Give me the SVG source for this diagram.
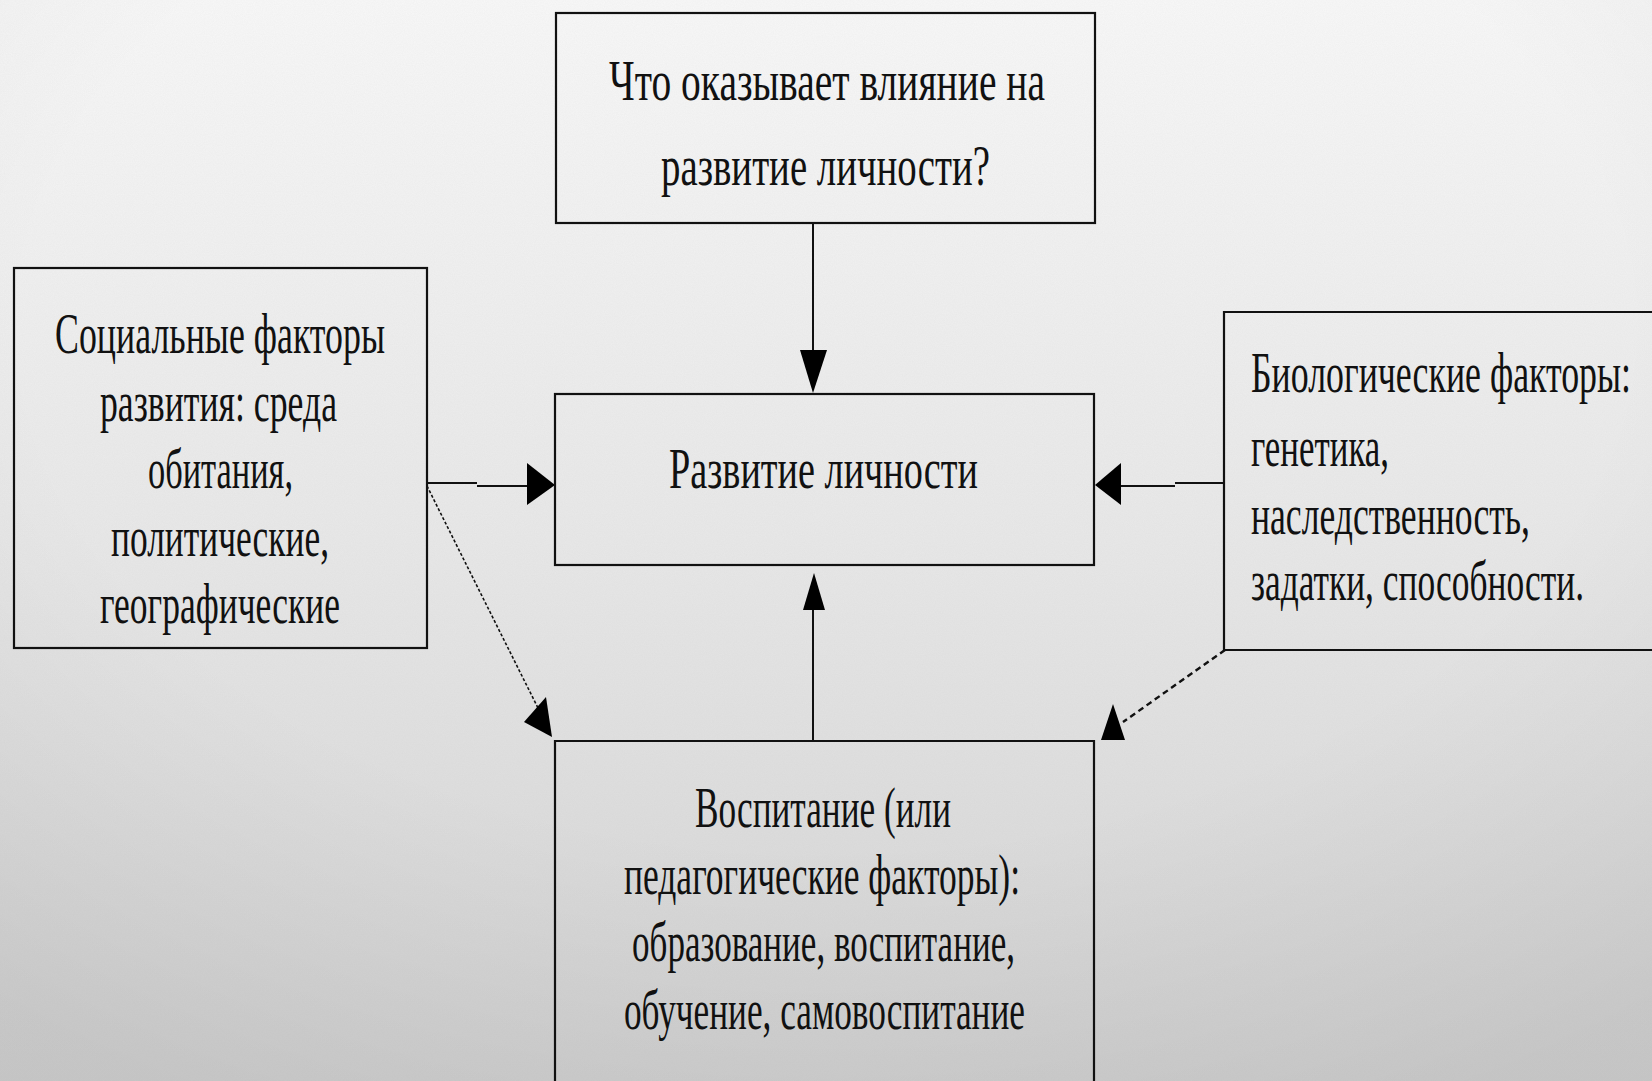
<svg xmlns="http://www.w3.org/2000/svg" width="1652" height="1081" viewBox="0 0 1652 1081">
<defs>
<linearGradient id="bg" x1="0" y1="0" x2="0" y2="1">
<stop offset="0" stop-color="#f8f8f8"/>
<stop offset="0.5" stop-color="#e8e8e8"/>
<stop offset="1" stop-color="#d2d2d2"/>
</linearGradient>
<radialGradient id="vig" cx="0.5" cy="0.3" r="0.8">
<stop offset="0.6" stop-color="#000" stop-opacity="0"/>
<stop offset="1" stop-color="#000" stop-opacity="0.06"/>
</radialGradient>
<filter id="noise" x="0" y="0" width="100%" height="100%">
<feTurbulence type="fractalNoise" baseFrequency="0.9" numOctaves="2" seed="3" result="n"/>
<feColorMatrix type="matrix" values="0 0 0 0 0.5  0 0 0 0 0.5  0 0 0 0 0.5  0 0 0 0.12 0"/>
</filter>
</defs>
<style>
.box{fill:none;stroke:#111;stroke-width:2.2}
.t{font-family:"Liberation Serif","DejaVu Serif",serif;font-size:56px;fill:#111}
.ln{stroke:#111;stroke-width:2;fill:none}
.dot{stroke:#111;stroke-width:1.6;fill:none;stroke-dasharray:3 2}
.dash{stroke:#111;stroke-width:2.4;fill:none;stroke-dasharray:6 4}
.ah{fill:#000}
</style>
<rect width="1652" height="1081" fill="url(#bg)"/>
<rect width="1652" height="1081" filter="url(#noise)"/>
<rect width="1652" height="1081" fill="url(#vig)"/>

<g id="connectors">
<line class="ln" x1="813" y1="223" x2="813" y2="352"/>
<polygon class="ah" points="800,350 827,350 813,393"/>
<path class="ln" d="M427,483 H477 M477,486 H528"/>
<polygon class="ah" points="527,463 527,505 555,485"/>
<path class="ln" d="M1224,483 H1175 M1175,486 H1120"/>
<polygon class="ah" points="1121,463 1121,505 1095,485"/>
<line class="ln" x1="813" y1="741" x2="813" y2="608"/>
<polygon class="ah" points="803,610 825,610 814,573"/>
<line class="dot" x1="427" y1="486" x2="540" y2="712"/>
<polygon class="ah" points="552,737 546,697 524,722"/>
<line class="dash" x1="1225" y1="650" x2="1123" y2="722"/>
<polygon class="ah" points="1113,704 1101,740 1125,740"/>
</g>

<g id="node-question">
<rect class="box" x="556" y="13" width="539" height="210"/>
<text class="t" x="609" y="100" textLength="436" lengthAdjust="spacingAndGlyphs">Что оказывает влияние на</text>
<text class="t" x="661" y="185" textLength="329" lengthAdjust="spacingAndGlyphs">развитие личности?</text>
</g>

<g id="node-center">
<rect class="box" x="555" y="394" width="539" height="171"/>
<text class="t" x="669" y="488" textLength="309" lengthAdjust="spacingAndGlyphs">Развитие личности</text>
</g>

<g id="node-social">
<rect class="box" x="14" y="268" width="413" height="380"/>
<text class="t" x="55" y="353" textLength="330" lengthAdjust="spacingAndGlyphs">Социальные факторы</text>
<text class="t" x="100" y="421" textLength="237" lengthAdjust="spacingAndGlyphs">развития: среда</text>
<text class="t" x="148" y="488" textLength="145" lengthAdjust="spacingAndGlyphs">обитания,</text>
<text class="t" x="111" y="556" textLength="218" lengthAdjust="spacingAndGlyphs">политические,</text>
<text class="t" x="100" y="623" textLength="240" lengthAdjust="spacingAndGlyphs">географические</text>
</g>

<g id="node-bio">
<path class="box" d="M1652,312 H1224 V650 H1652"/>
<g transform="translate(1251,0) scale(0.5,1)">
<text class="t" x="0" y="392" textLength="760" lengthAdjust="spacingAndGlyphs">Биологические факторы:</text>
<text class="t" x="0" y="466" textLength="276" lengthAdjust="spacingAndGlyphs">генетика,</text>
<text class="t" x="0" y="534" textLength="558" lengthAdjust="spacingAndGlyphs">наследственность,</text>
<text class="t" x="0" y="600" textLength="666" lengthAdjust="spacingAndGlyphs">задатки, способности.</text>
</g>
</g>

<g id="node-education">
<path class="box" d="M555,1081 V741 H1094 V1081"/>
<text class="t" x="695" y="827" textLength="256" lengthAdjust="spacingAndGlyphs">Воспитание (или</text>
<text class="t" x="624" y="894" textLength="396" lengthAdjust="spacingAndGlyphs">педагогические факторы):</text>
<text class="t" x="632" y="961" textLength="383" lengthAdjust="spacingAndGlyphs">образование, воспитание,</text>
<text class="t" x="624" y="1029" textLength="401" lengthAdjust="spacingAndGlyphs">обучение, самовоспитание</text>
</g>
</svg>
